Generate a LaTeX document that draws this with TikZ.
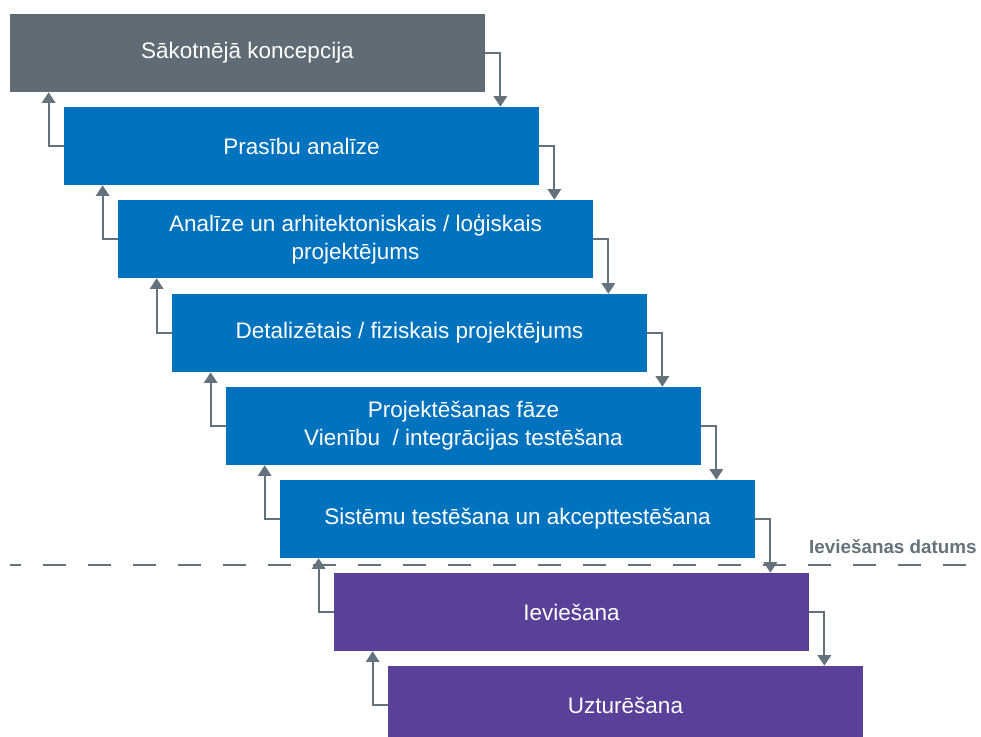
\documentclass[tikz,border=0pt]{standalone}
\usepackage{fontspec}
\setmainfont{Liberation Sans}
\usetikzlibrary{arrows.meta}
\definecolor{konc}{HTML}{5F6C75}
\definecolor{zils}{HTML}{0072BE}
\definecolor{violets}{HTML}{5A4098}
\definecolor{bulta}{HTML}{64727B}

\begin{document}
\begin{tikzpicture}[x=0.025cm, y=-0.025cm,
  phase/.style={minimum width=11.875cm, minimum height=1.95cm, inner sep=0pt,
    text=white, align=center, font=\fontsize{16}{20}\selectfont},
  arr/.style={draw=bulta, line width=1.4pt, -{Triangle[width=9.5pt,length=7.5pt]}}]
\useasboundingbox (0,0) rectangle (981,737);
% phases
\node[phase, fill=konc] (b1) at (247.5,53) {Sākotnējā koncepcija};
\node[phase, fill=zils] (b2) at (301.5,146) {Prasību analīze};
\node[phase, fill=zils] (b3) at (355.5,239) {Analīze un arhitektoniskais / loģiskais\\projektējums};
\node[phase, fill=zils] (b4) at (409.5,333) {Detalizētais / fiziskais projektējums};
\node[phase, fill=zils] (b5) at (463.5,426) {Projektēšanas fāze\\Vienību~ / integrācijas testēšana};
\node[phase, fill=zils] (b6) at (517.5,519) {Sistēmu testēšana un akcepttestēšana};
\node[phase, fill=violets] (b7) at (571.5,612) {Ieviešana};
\node[phase, fill=violets] (b8) at (625.5,705) {Uzturēšana};
% go-live line
\coordinate (lineL) at (10,565);
\coordinate (lineR) at (981,565);
\draw[bulta, line width=1.9pt, dash pattern=on 0.575cm off 0.55cm, dash phase=0.3cm] (lineL) -- (lineR);
\node[anchor=base east, inner sep=0pt, text=bulta, font=\bfseries\fontsize{13.4}{16}\selectfont] (datums) at (977,553) {Ieviešanas datums};
% down
\draw[arr] (b1.east) -- ++(15,0) coordinate (d1) -- (d1 |- b2.north);
\draw[arr] (b2.east) -- ++(15,0) coordinate (d2) -- (d2 |- b3.north);
\draw[arr] (b3.east) -- ++(15,0) coordinate (d3) -- (d3 |- b4.north);
\draw[arr] (b4.east) -- ++(15,0) coordinate (d4) -- (d4 |- b5.north);
\draw[arr] (b5.east) -- ++(15,0) coordinate (d5) -- (d5 |- b6.north);
\draw[arr] (b6.east) -- ++(15,0) coordinate (d6) -- (d6 |- b7.north);
\draw[arr] (b7.east) -- ++(15,0) coordinate (d7) -- (d7 |- b8.north);
% up
\draw[arr] (b2.west) -- ++(-15,0) coordinate (u1) -- (u1 |- b1.south);
\draw[arr] (b3.west) -- ++(-15,0) coordinate (u2) -- (u2 |- b2.south);
\draw[arr] (b4.west) -- ++(-15,0) coordinate (u3) -- (u3 |- b3.south);
\draw[arr] (b5.west) -- ++(-15,0) coordinate (u4) -- (u4 |- b4.south);
\draw[arr] (b6.west) -- ++(-15,0) coordinate (u5) -- (u5 |- b5.south);
\draw[arr] (b7.west) -- ++(-15,0) coordinate (u6) -- (u6 |- b6.south);
\draw[arr] (b8.west) -- ++(-15,0) coordinate (u7) -- (u7 |- b7.south);
\end{tikzpicture}
\end{document}
